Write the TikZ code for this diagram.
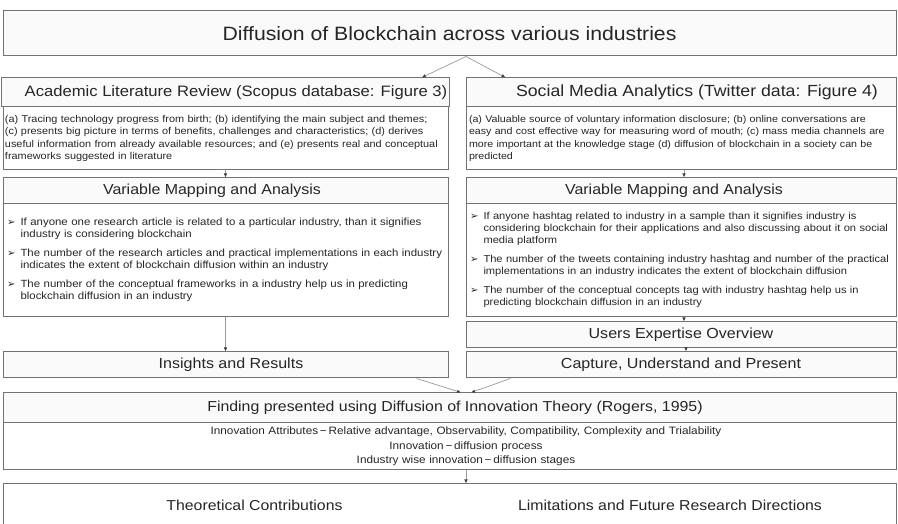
\documentclass[tikz,border=0pt]{standalone}
\usepackage{fontspec}
\setmainfont{Liberation Sans}[FakeStretch=1.1]
\newfontfamily\symfont{DejaVu Sans}
\usetikzlibrary{arrows.meta}
\newcommand{\fs}[2]{\fontsize{#1}{#2}\selectfont}
\newcommand{\bul}{\makebox[13.5pt][l]{\symfont\fs{10}{10}➢}}

\begin{document}
\begin{tikzpicture}[x=1pt, y=1pt,
  box/.style={draw=black!55, line width=1pt, fill=white, text=black!85, inner ysep=0pt},
  hd/.style={box, fill=black!2, inner xsep=2pt},
  bd/.style={box, align=left},
  arr/.style={draw=black!40, line width=0.7pt, -{Latex[length=4pt, width=3.5pt, color=black!75]}}]
\useasboundingbox (0,0) rectangle (898,524);
\node[hd, minimum width=893pt, minimum height=45pt, font=\fs{19.3}{22}] (title) at (449.5,490.5) {Diffusion of Blockchain across various industries};
\node[hd, minimum width=445pt, minimum height=29pt, font=\fs{15.1}{17}] (acadhead) at (225.5,431.5) {\hspace*{21pt}Academic Literature Review (Scopus database: Figure 3)};
\node[bd, inner xsep=2pt, text width=441pt, minimum height=63pt, font=\fs{9.9}{12.5}] (acadbody) at (225.5,385.5) {\begin{tabular}{@{}l@{}}
(a) Tracing technology progress from birth; (b) identifying the main subject and themes;\\
(c) presents big picture in terms of benefits, challenges and characteristics; (d) derives\\
useful information from already available resources; and (e) presents real and conceptual\\
frameworks suggested in literature\end{tabular}};
\node[hd, minimum width=430pt, minimum height=29pt, font=\fs{16.1}{18}] (sochead) at (681,431.5) {\hspace*{32pt}Social Media Analytics (Twitter data: Figure 4)};
\node[bd, inner xsep=3pt, text width=424pt, minimum height=63pt, font=\fs{9.7}{12.5}] (socbody) at (681,385.5) {\begin{tabular}{@{}l@{}}
(a) Valuable source of voluntary information disclosure; (b) online conversations are\\
easy and cost effective way for measuring word of mouth; (c) mass media channels are\\
more important at the knowledge stage (d) diffusion of blockchain in a society can be\\
predicted\end{tabular}};
\node[hd, minimum width=445pt, minimum height=26pt, font=\fs{14.5}{17}] (vmlhead) at (225.5,333) {Variable Mapping and Analysis\hspace*{27pt}};
\node[bd, inner xsep=4pt, text width=437pt, minimum height=113pt, font=\fs{10.4}{12}] (vmlbody) at (225.5,263.5) {\begin{tabular}{@{}l@{}}
\bul If anyone one research article is related to a particular industry, than it signifies\\
\hspace*{13.5pt}industry is considering blockchain\\[7pt]
\bul The number of the research articles and practical implementations in each industry\\
\hspace*{13.5pt}indicates the extent of blockchain diffusion within an industry\\[7pt]
\bul The number of the conceptual frameworks in a industry help us in predicting\\
\hspace*{13.5pt}blockchain diffusion in an industry\end{tabular}};
\node[hd, minimum width=430pt, minimum height=26pt, font=\fs{14.5}{17}] (vmrhead) at (681,333) {Variable Mapping and Analysis\hspace*{14pt}};
\node[bd, inner xsep=4pt, text width=422pt, minimum height=113pt, font=\fs{10.1}{12}] (vmrbody) at (681,263.5) {\begin{tabular}{@{}l@{}}
\bul If anyone hashtag related to industry in a sample than it signifies industry is\\
\hspace*{13.5pt}considering blockchain for their applications and also discussing about it on social\\
\hspace*{13.5pt}media platform\\[7pt]
\bul The number of the tweets containing industry hashtag and number of the practical\\
\hspace*{13.5pt}implementations in an industry indicates the extent of blockchain diffusion\\[7pt]
\bul The number of the conceptual concepts tag with industry hashtag help us in\\
\hspace*{13.5pt}predicting blockchain diffusion in an industry\end{tabular}};
\node[hd, minimum width=430pt, minimum height=26pt, font=\fs{14.6}{17}] (users) at (681,189) {Users Expertise Overview};
\node[hd, minimum width=445pt, minimum height=26pt, font=\fs{14.6}{17}] (insights) at (225.5,159) {\hspace*{11pt}Insights and Results};
\node[hd, minimum width=430pt, minimum height=26pt, font=\fs{14.6}{17}] (capture) at (681,159) {Capture, Understand and Present};
\node[hd, minimum width=893pt, minimum height=30pt, font=\fs{14.45}{17}] (findhead) at (449.5,116) {\hspace*{11pt}Finding presented using Diffusion of Innovation Theory (Rogers, 1995)};
\node[bd, align=center, inner xsep=4pt, text width=885pt, minimum height=47pt, font=\fs{10.7}{14.5}] (findbody) at (449.5,77.5) {\hspace*{33pt}\begin{tabular}{@{}c@{}}
Innovation Attributes\,−\,Relative advantage, Observability, Compatibility, Complexity and Trialability\\
Innovation\,−\,diffusion process\\
Industry wise innovation\,−\,diffusion stages\end{tabular}};
\node[box, minimum width=893pt, minimum height=60pt] (bottom) at (449.5,10) {};
\node[text=black!85, font=\fs{14.4}{17}] (theo) at (254.5,19) {Theoretical Contributions};
\node[text=black!85, font=\fs{14.4}{17}] (limit) at (670,19) {Limitations and Future Research Directions};
\coordinate (split) at ([xshift=16.5pt]title.south);
\draw[arr] (split) -- ([xshift=-28pt]acadhead.north east);
\draw[arr] (split) -- ([xshift=40pt]sochead.north west);
\draw[arr] (acadbody) -- (vmlhead);
\draw[arr] ([xshift=3pt]socbody.south) -- ([xshift=3pt]vmrhead.north);
\draw[arr] (vmlbody) -- (insights);
\draw[arr] ([xshift=3pt]vmrbody.south) -- ([xshift=3pt]users.north);
\draw[arr] ([xshift=5pt]users.south) -- ([xshift=5pt]capture.north);
\draw[arr] ([xshift=-32pt]insights.south east) -- ([xshift=11.5pt]findhead.north);
\draw[arr] ([xshift=45pt]capture.south west) -- ([xshift=21.5pt]findhead.north);
\draw[arr] ([xshift=16.5pt]findbody.south) -- ([xshift=16.5pt]bottom.north);
\end{tikzpicture}
\end{document}
